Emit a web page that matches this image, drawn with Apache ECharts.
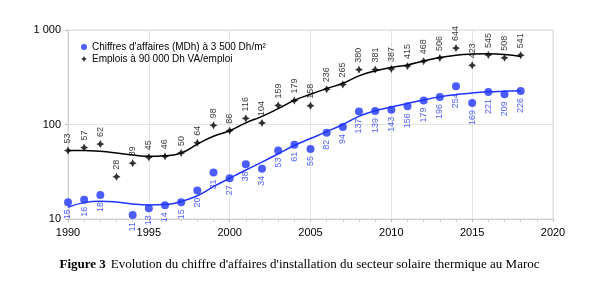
<!DOCTYPE html>
<html><head><meta charset="utf-8">
<script src="https://cdn.jsdelivr.net/npm/echarts@6/dist/echarts.min.js"></script>
<style>html,body{margin:0;padding:0;background:#fff}#c{width:599px;height:290px}</style>
</head><body><div id="c"></div>
<script>
const years = [1990,1991,1992,1993,1994,1995,1996,1997,1998,1999,2000,2001,2002,2003,2004,2005,2006,2007,2008,2009,2010,2011,2012,2013,2014,2015,2016,2017,2018];
const chiffres = [15,16,18,null,11,13,14,15,20,31,27,38,34,53,61,55,82,94,137,139,143,156,179,196,254,169,221,209,226];
const emplois = [53,57,62,28,39,45,46,50,64,98,86,116,104,159,179,158,236,265,380,381,387,415,468,506,644,423,545,508,541];
const trendChiffres = [13.3,14.9,15.4,15.1,14.4,14.1,14.2,15.3,17.6,22,27,33,40,49,60,71,84,100,122,140,153,167,182,196,207,216,222,225,228];
const trendEmplois = [53,53,52,50,47.6,46,46.7,50,62,75,86,104,122,147,180,209,240,273,327,369,401,427,471,512,542,556,560,551,525];
const xTicks = [1990,1995,2000,2005,2010,2015,2020];
const yTicks = [10,100,1000];
const nameChiffres = "Chiffres d'affaires (MDh) à 3 500 Dh/m²";
const nameEmplois = "Emplois à 90 000 Dh VA/emploi";

const pairs = (vals) => years.map((y,i)=>[y, vals[i]]).filter(p=>p[1]!==null);
const BLUE = '#1f35ff';
const star = 'path://M0,-10 L3.5,-3.5 L10,0 L3.5,3.5 L0,10 L-3.5,3.5 L-10,0 L-3.5,-3.5 Z';
const fmtNum = v => String(v).replace(/\B(?=(\d{3})+(?!\d))/g,' ');

const chart = echarts.init(document.getElementById('c'));
chart.setOption({
  animation:false,
  textStyle:{fontFamily:'Liberation Sans, Arial, sans-serif'},
  title:{
    text:'{b|Figure 3} {n|Evolution du chiffre d\'affaires d\'installation du secteur solaire thermique au Maroc}',
    left:'center', top:251,
    textStyle:{fontWeight:'normal',rich:{
      b:{fontFamily:'Liberation Serif, Times New Roman, serif',fontWeight:'bold',fontSize:13,color:'#000'},
      n:{fontFamily:'Liberation Serif, Times New Roman, serif',fontWeight:'normal',fontSize:13,color:'#000'}
    }}
  },
  legend:{
    data:[{name:nameChiffres,icon:'circle'},{name:nameEmplois,icon:star}],
    orient:'vertical', left:76, top:37, itemWidth:6, itemHeight:6, itemGap:2,
    textStyle:{fontSize:10,color:'#000',fontFamily:'Liberation Sans, Arial, sans-serif'}
  },
  grid:{left:68,right:46,top:30,bottom:71,show:true,borderColor:'#d9d9d9',borderWidth:1},
  xAxis:{
    type:'value', min:1990, max:2020, interval:5,
    axisLine:{lineStyle:{color:'#d0d0d0'}},
    axisTick:{show:true,length:3,lineStyle:{color:'#bbb'}},
    minorTick:{show:true,splitNumber:5,length:3,lineStyle:{color:'#ccc'}},
    splitLine:{show:true,lineStyle:{color:'#e3e3e3'}},
    axisLabel:{fontSize:11,color:'#000',margin:8,formatter:v=>xTicks.includes(v)?String(v):''}
  },
  yAxis:{
    type:'log', min:10, max:1000, logBase:10,
    axisLine:{show:true,lineStyle:{color:'#d0d0d0'}},
    axisTick:{show:true,length:3,lineStyle:{color:'#bbb'}},
    splitLine:{show:true,lineStyle:{color:'#e3e3e3'}},
    axisLabel:{fontSize:11,color:'#000',margin:7,formatter:v=>yTicks.includes(v)?fmtNum(v):''}
  },
  series:[
    {name:nameChiffres,type:'scatter',data:pairs(chiffres),symbol:'circle',symbolSize:8,
     itemStyle:{color:BLUE},z:4,
     label:{show:true,position:'bottom',distance:3,rotate:90,align:'right',verticalAlign:'middle',
       fontSize:9,color:BLUE,formatter:p=>String(p.value[1])}},
    {name:nameEmplois,type:'scatter',data:pairs(emplois),symbol:star,symbolSize:8,
     itemStyle:{color:'#000'},z:4,
     label:{show:true,position:'top',distance:3,rotate:90,align:'left',verticalAlign:'middle',
       fontSize:9,color:'#000',formatter:p=>String(p.value[1])}},
    {name:'trendC',type:'line',data:pairs(trendChiffres),smooth:true,showSymbol:false,
     lineStyle:{color:BLUE,width:1.5},z:3,silent:true},
    {name:'trendE',type:'line',data:pairs(trendEmplois),smooth:true,showSymbol:false,
     lineStyle:{color:'#000',width:1.5},z:3,silent:true}
  ]
});
</script></body></html>
